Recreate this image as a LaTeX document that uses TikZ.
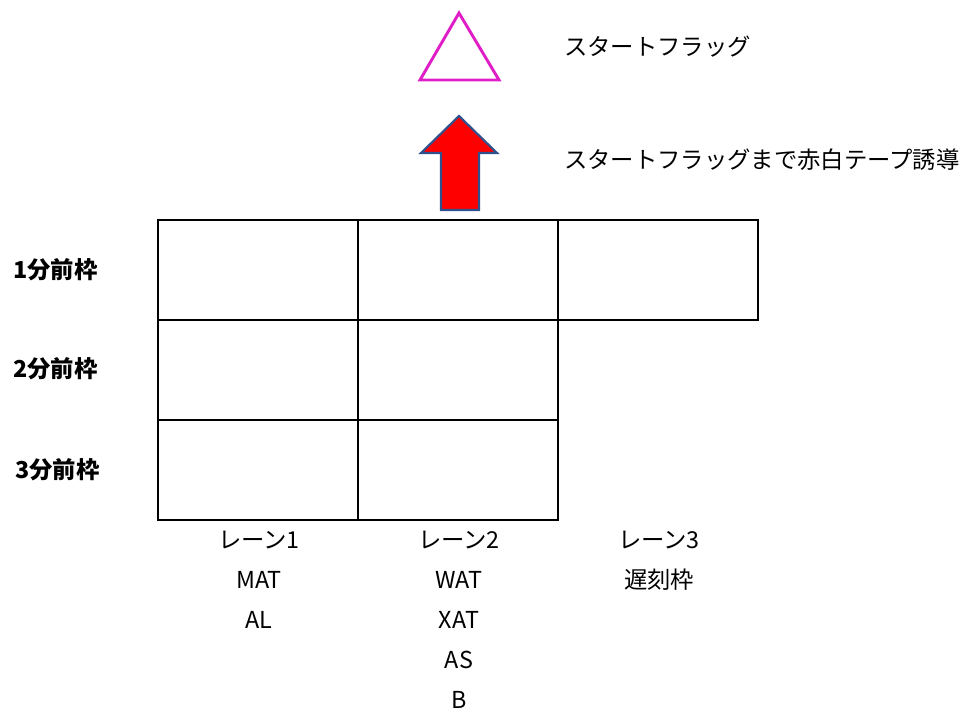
\documentclass[tikz,border=0pt]{standalone}
\usepackage{fontspec}
\setmainfont{Noto Sans CJK JP}
\begin{document}
\begin{tikzpicture}[x=0.75pt,y=-0.75pt,
  cell/.style={draw=black,line width=1.5pt,minimum width=150pt,minimum height=75pt,inner sep=0pt,anchor=north west},
  lbl/.style={font=\fontsize{17.5pt}{20pt}\selectfont,inner sep=0pt},
  side/.style={font=\fontsize{17.5pt}{20pt}\selectfont\bfseries,inner sep=0pt,anchor=west}]
\useasboundingbox (0,0) rectangle (972,710);
% grid
\node[cell] (r1c1) at (157,219) {};
\node[cell] (r1c2) at (357,219) {};
\node[cell] (r1c3) at (557,219) {};
\node[cell] (r2c1) at (157,319) {};
\node[cell] (r2c2) at (357,319) {};
\node[cell] (r3c1) at (157,419) {};
\node[cell] (r3c2) at (357,419) {};
% triangle
\draw[line width=2.2pt,draw={rgb,255:red,224;green,30;blue,200},line join=miter] (459,13) -- (499,80) -- (420,80) -- cycle;
% arrow
\draw[line width=1.6pt,draw={rgb,255:red,47;green,82;blue,143},fill=red,line join=miter]
  (459,116) -- (497,153) -- (479,153) -- (479,210) -- (441,210) -- (441,153) -- (421,153) -- cycle;
% texts
\node[lbl,anchor=west] (t1) at (564,47) {スタートフラッグ};
\node[lbl,anchor=west] (t2) at (564,160) {スタートフラッグまで赤白テープ誘導};
\node[side] (s1) at (13,270) {1分前枠};
\node[side] (s2) at (13,369) {2分前枠};
\node[side] (s3) at (15,470) {3分前枠};
\node[lbl] (l1) at (259,540) {レーン1};
\node[lbl] (l2) at (459,540) {レーン2};
\node[lbl] (l3) at (659,540) {レーン3};
\node[lbl] (m1) at (259,580) {MAT};
\node[lbl] (m2) at (259,620) {AL};
\node[lbl] (w1) at (459,580) {WAT};
\node[lbl] (w2) at (459,620) {XAT};
\node[lbl] (w3) at (459,660) {AS};
\node[lbl] (w4) at (459,700) {B};
\node[lbl] (c1) at (659,580) {遅刻枠};
\end{tikzpicture}
\end{document}
